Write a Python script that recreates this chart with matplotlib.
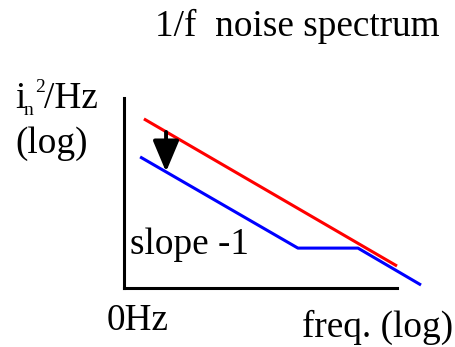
import matplotlib
matplotlib.use('Agg')
import matplotlib.pyplot as plt

plt.rcParams['font.family'] = ['Liberation Serif', 'DejaVu Serif']

# log-frequency / log-PSD in arbitrary decade units
red_x = [0.73, 10.0]
red_y = [6.23, 0.81]
blue_x = [0.59, 6.37, 8.57, 10.88]
blue_y = [4.83, 1.47, 1.47, 0.11]
arrow_x = 1.54
arrow_from = 5.75
arrow_to = 4.28

fig = plt.figure(figsize=(4.56, 3.47), dpi=100)
ax = fig.add_axes([124 / 456, 59 / 347, 273 / 456, 190 / 347])
ax.set_xlim(0, 10)
ax.set_ylim(0, 7)
ax.set_xticks([])
ax.set_yticks([])
for side in ['top', 'right']:
    ax.spines[side].set_visible(False)
for side in ['left', 'bottom']:
    ax.spines[side].set_linewidth(2.2)

ax.plot(red_x, red_y, color='#ff0000', lw=2.2, clip_on=False, solid_capstyle='butt')
ax.plot(blue_x, blue_y, color='#0000ff', lw=2.2, clip_on=False, solid_capstyle='butt')

ax.annotate('', xy=(arrow_x, arrow_to), xytext=(arrow_x, arrow_from),
            arrowprops=dict(arrowstyle='-|>,head_length=1.9,head_width=0.8',
                            mutation_scale=10, lw=2.8, color='black', fc='black',
                            shrinkA=0, shrinkB=0))

fs = 26.8


def px(x, y):
    return x / 456, 1 - y / 347


fig.text(*px(155, 36), '1/f  noise spectrum', fontsize=fs, va='baseline')

# i_n^2/Hz built from pieces so the sub/superscript sit like hand-set type
fig.text(*px(15, 108), 'i', fontsize=fs, va='baseline')
fig.text(*px(24, 115), 'n', fontsize=14, va='baseline')
fig.text(*px(35, 92), '2', fontsize=14, va='baseline')
fig.text(*px(44, 108), '/Hz', fontsize=fs, va='baseline')
fig.text(*px(15, 153), '(log)', fontsize=fs, va='baseline')

fig.text(*px(130, 254), 'slope -1', fontsize=fs, va='baseline')
fig.text(*px(107, 330), '0Hz', fontsize=fs, va='baseline')
fig.text(*px(302, 337), 'freq. (log)', fontsize=fs, va='baseline')

fig.savefig('out.png', dpi=100)
